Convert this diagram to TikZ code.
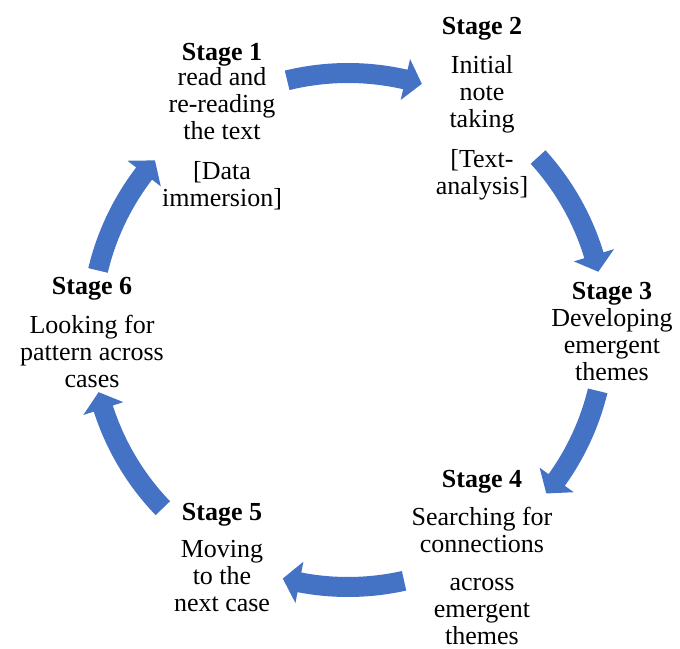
\documentclass[tikz,border=0pt]{standalone}
\usepackage{fontspec}
\setmainfont{Liberation Serif}
\definecolor{cycleblue}{HTML}{4472C4}
\tikzset{
  stagetext/.style={align=center, inner sep=0pt, anchor=base,
    font=\fontsize{26}{27}\selectfont},
  cyclearrow/.style={fill=cycleblue, draw=none}
}
% radius of the cycle, shaft half width, head half width, head length (deg)
\def\Rmid{257}
\def\Rout{267}
\def\Rin{247}
\def\Rhout{278}
\def\Rhin{236}
\def\headang{3.8}
% clockwise block arrow from angle #1 (tail) to angle #2 (tip)
\newcommand{\cyclearc}[2]{%
  \pgfmathsetmacro\neck{#2+\headang}%
  \fill[cyclearrow] (#1:\Rout) arc[start angle=#1, end angle=\neck, radius=\Rout]
    -- (\neck:\Rhout) -- (#2:\Rmid) -- (\neck:\Rhin) -- (\neck:\Rin)
    arc[start angle=\neck, end angle=#1, radius=\Rin] -- cycle;}
\begin{document}
\begin{tikzpicture}[x=1pt, y=1pt]
  \useasboundingbox (0,0) rectangle (680,648);

  % arrows around the cycle
  \begin{scope}[shift={(348,318)}]
    \coordinate (C) at (0,0);
    \cyclearc{103.7}{73.3}
    \cyclearc{42.3}{13.1}
    \cyclearc{-13.7}{-39.5}
    \cyclearc{-77.4}{-104.7}
    \cyclearc{-136.1}{-166}
    \cyclearc{166.6}{138.7}
  \end{scope}

  % stage labels (base anchor sits on the last line)
  \node[stagetext] (s1) at (222,441) {\textbf{Stage 1}\\[-2pt] read and\\ re-reading\\ the text\\[13pt] [Data\\ immersion]};
  \node[stagetext] (s2) at (482,453) {\textbf{Stage 2}\\[12pt] Initial\\ note\\ taking\\[13pt] [Text-\\ analysis]};
  \node[stagetext] (s3) at (612,267) {\textbf{Stage 3}\\ Developing\\ emergent\\ themes};
  \node[stagetext] (s4) at (482,4) {\textbf{Stage 4}\\[11pt] Searching for\\ connections\\[11pt] across\\ emergent\\ themes};
  \node[stagetext] (s5) at (222,37) {\textbf{Stage 5}\\[10pt] Moving\\ to the\\ next case};
  \node[stagetext] (s6) at (92,260) {\textbf{Stage 6}\\[12pt] Looking for\\ pattern across\\ cases};
\end{tikzpicture}
\end{document}
